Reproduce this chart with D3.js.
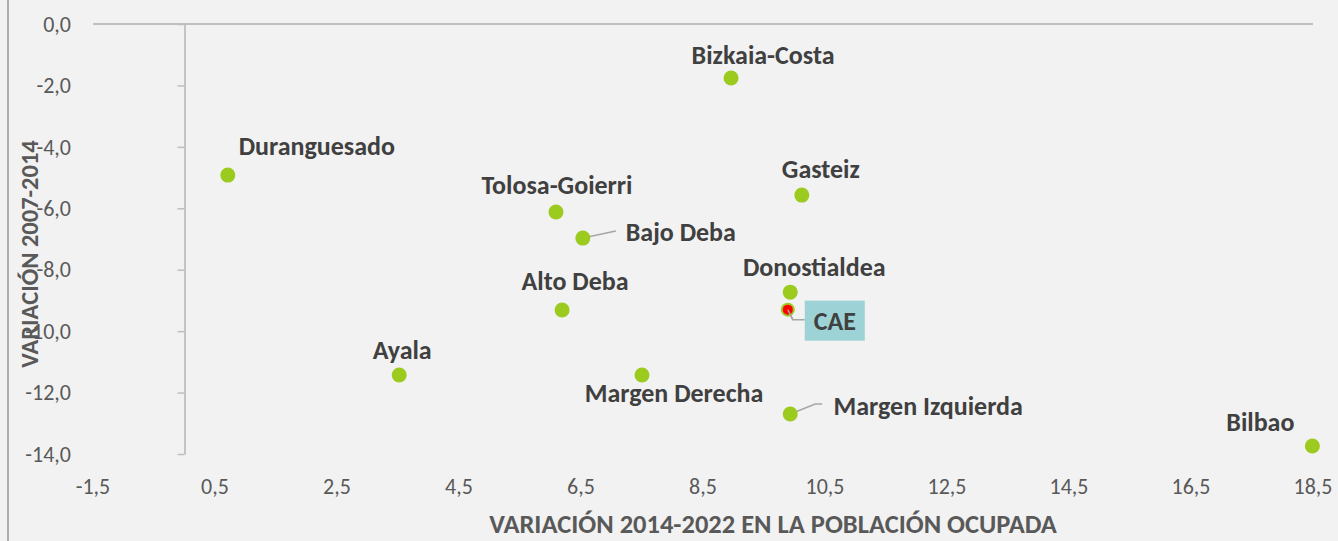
<!DOCTYPE html>
<html>
<head>
<meta charset="utf-8">
<script src="https://cdn.jsdelivr.net/npm/d3@7"></script>
<style>
  html, body { margin: 0; padding: 0; background: #f2f2f2; }
  svg { display: block; font-family: Calibri, Carlito, Lato, sans-serif; }
</style>
</head>
<body>
<svg id="chart" width="1338" height="541"></svg>
<script>
// comarcas: variación 2014-2022 (x) y 2007-2014 (y)
var names = ["Bizkaia-Costa", "Duranguesado", "Tolosa-Goierri", "Bajo Deba", "Gasteiz",
  "Donostialdea", "Alto Deba", "CAE", "Ayala", "Margen Derecha", "Margen Izquierda", "Bilbao"];
var var2014_2022 = [8.96, 0.71, 6.09, 6.53, 10.12, 9.93, 6.19, 9.89, 3.52, 7.50, 9.93, 18.49];
var var2007_2014 = [-1.76, -4.92, -6.12, -6.97, -5.57, -8.73, -9.31, -9.30, -11.43, -11.43, -12.70, -13.74];

var xTicks = [-1.5, 0.5, 2.5, 4.5, 6.5, 8.5, 10.5, 12.5, 14.5, 16.5, 18.5];
var yTicks = [0, -2, -4, -6, -8, -10, -12, -14];

var xTitle = "VARIACIÓN 2014-2022 EN LA POBLACIÓN OCUPADA";
var yTitle = "VARIACIÓN 2007-2014";

// label placement (px from the point) and leader lines
var labelPos = {
  "Bizkaia-Costa": [32, -23],
  "Duranguesado": [89, -29],
  "Tolosa-Goierri": [1, -27],
  "Bajo Deba": [98, -6],
  "Gasteiz": [19, -26],
  "Donostialdea": [24, -25],
  "Alto Deba": [13, -29],
  "CAE": [47, 11],
  "Ayala": [3, -25],
  "Margen Derecha": [32, 18],
  "Margen Izquierda": [138, -8],
  "Bilbao": [-52, -24]
};
var leaders = {
  "Bajo Deba": [[0, 0], [33, -7]],
  "Margen Izquierda": [[0, 0], [25, -10], [32, -10]],
  "CAE": [[0, 0], [5, 10], [17, 10]]
};

var svg = d3.select("#chart");

var x = d3.scaleLinear().domain([-1.5, 18.5]).range([93, 1313]);
var y = d3.scaleLinear().domain([0, -14]).range([24, 454]);

function fmt(d) { return d3.format(".1f")(d).replace(".", ",").replace("−", "-"); }

// left frame line
svg.append("line")
  .attr("x1", 8).attr("x2", 8).attr("y1", 0).attr("y2", 541)
  .attr("stroke", "#7f7f7f").attr("stroke-width", 1.2);

// horizontal axis at y = 0
svg.append("line")
  .attr("x1", x(-1.5)).attr("x2", x(18.5))
  .attr("y1", y(0)).attr("y2", y(0))
  .attr("stroke", "#bfbfbf").attr("stroke-width", 2);

// vertical axis at x = 0
var yAxis = d3.axisLeft(y).tickValues(yTicks).tickSize(7).tickSizeOuter(0).tickFormat(fmt);
var gy = svg.append("g").attr("transform", "translate(" + x(0) + ",0)").call(yAxis);
gy.select(".domain").attr("stroke", "#bfbfbf").attr("stroke-width", 1.8);
gy.selectAll(".tick line").attr("stroke", "#bfbfbf").attr("stroke-width", 1.5);
gy.selectAll(".tick text").remove();

// y tick labels at the left edge
svg.append("g").selectAll("text").data(yTicks).enter().append("text")
  .attr("x", 71).attr("y", function(d) { return y(d); })
  .attr("dy", "0.35em")
  .attr("text-anchor", "end")
  .attr("font-size", 22).attr("fill", "#595959")
  .text(fmt);

// x tick labels at the bottom
svg.append("g").selectAll("text").data(xTicks).enter().append("text")
  .attr("x", function(d) { return x(d); }).attr("y", 486)
  .attr("dy", "0.35em")
  .attr("text-anchor", "middle")
  .attr("font-size", 22).attr("fill", "#595959")
  .text(fmt);

// axis titles
svg.append("text")
  .attr("x", 773).attr("y", 524).attr("dy", "0.35em")
  .attr("text-anchor", "middle")
  .attr("font-size", 26.5).attr("font-weight", "bold").attr("fill", "#595959")
  .text(xTitle);

svg.append("text")
  .attr("transform", "translate(29,254) rotate(-90)")
  .attr("dy", "0.35em")
  .attr("text-anchor", "middle")
  .attr("font-size", 24.5).attr("font-weight", "bold").attr("fill", "#595959")
  .text(yTitle);

var pts = names.map(function(n, i) {
  return { name: n, px: x(var2014_2022[i]), py: y(var2007_2014[i]) };
});

// leader lines
var line = d3.line();
svg.append("g").selectAll("path")
  .data(pts.filter(function(d) { return leaders[d.name]; }))
  .enter().append("path")
  .attr("d", function(d) {
    return line(leaders[d.name].map(function(p) { return [d.px + p[0], d.py + p[1]]; }));
  })
  .attr("fill", "none").attr("stroke", "#a6a6a6").attr("stroke-width", 1.5);

// points
svg.append("g").selectAll("circle").data(pts).enter().append("circle")
  .attr("cx", function(d) { return d.px; })
  .attr("cy", function(d) { return d.py; })
  .attr("r", function(d) { return d.name == "CAE" ? 6 : 7.5; })
  .attr("fill", function(d) { return d.name == "CAE" ? "#ff0000" : "#9acb1e"; })
  .attr("stroke", function(d) { return d.name == "CAE" ? "#9acb1e" : "none"; })
  .attr("stroke-width", 2);

// redraw the CAE leader start on top of the marker
var cae = pts.filter(function(d) { return d.name == "CAE"; })[0];
svg.append("path")
  .attr("d", line(leaders["CAE"].slice(0, 2).map(function(p) { return [cae.px + p[0], cae.py + p[1]]; })))
  .attr("fill", "none").attr("stroke", "#a6a6a6").attr("stroke-width", 1.5);

// CAE box
svg.append("rect")
  .attr("x", cae.px + labelPos["CAE"][0] - 30)
  .attr("y", cae.py + labelPos["CAE"][1] - 20)
  .attr("width", 60).attr("height", 40)
  .attr("fill", "#9dd3d6");

// labels
svg.append("g").selectAll("text").data(pts).enter().append("text")
  .attr("x", function(d) { return d.px + labelPos[d.name][0]; })
  .attr("y", function(d) { return d.py + labelPos[d.name][1]; })
  .attr("dy", "0.35em")
  .attr("text-anchor", "middle")
  .attr("font-size", 26).attr("font-weight", "bold").attr("fill", "#404040")
  .text(function(d) { return d.name; });
</script>
</body>
</html>
